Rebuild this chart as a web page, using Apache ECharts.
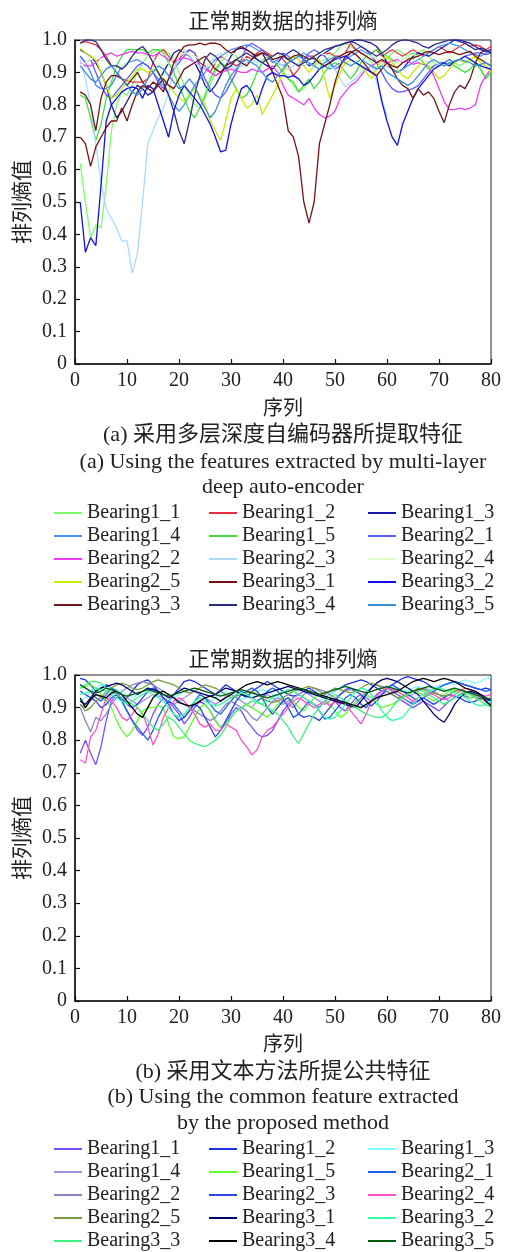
<!DOCTYPE html>
<html>
<head>
<meta charset="utf-8">
<script src="https://cdn.jsdelivr.net/npm/echarts@6/dist/echarts.min.js"></script>
<style>
html,body{margin:0;padding:0;background:#fff;overflow:hidden;}
#ca{width:513px;height:626px;}
#cb{width:513px;height:660px;}
</style>
</head>
<body>
<div id="ca"></div>
<div id="cb"></div>
<script>
// ---------- labels ----------
const seriesNames = ['Bearing1_1','Bearing1_2','Bearing1_3','Bearing1_4','Bearing1_5',
  'Bearing2_1','Bearing2_2','Bearing2_3','Bearing2_4','Bearing2_5',
  'Bearing3_1','Bearing3_2','Bearing3_3','Bearing3_4','Bearing3_5'];
const yTickLabels = ['0','0.1','0.2','0.3','0.4','0.5','0.6','0.7','0.8','0.9','1.0'];
const chartTitle = '正常期数据的排列熵';
const yAxisName = '排列熵值';
const xAxisName = '序列';
const captionA = ['(a) 采用多层深度自编码器所提取特征', '(a) Using the features extracted by multi-layer', 'deep auto-encoder'];
const captionB = ['(b) 采用文本方法所提公共特征', '(b) Using the common feature extracted', 'by the proposed method'];

// ---------- (a) multi-layer deep auto-encoder ----------
const a_b1_1 = [0.62,0.50,0.39,0.43,0.42,0.55,0.72,0.80,0.84,0.83,
 0.86,0.90,0.93,0.95,0.96,0.97,0.97,0.96,0.94,0.90,
 0.86,0.83,0.80,0.79,0.82,0.86,0.90,0.93,0.95,0.96,
 0.95,0.93,0.92,0.94,0.96,0.97,0.96,0.94,0.92,0.90,
 0.88,0.86,0.84,0.85,0.87,0.89,0.91,0.93,0.95,0.96,
 0.98,0.99,0.98,0.97,0.96,0.95,0.93,0.91,0.92,0.94,
 0.96,0.97,0.96,0.95,0.94,0.96,0.97,0.95,0.93,0.92,
 0.93,0.94,0.93,0.92,0.93,0.94,0.93,0.91,0.88,0.91];
const a_b1_2 = [0.99,0.995,0.99,0.985,0.97,0.95,0.92,0.90,0.88,0.875,
 0.87,0.87,0.87,0.88,0.93,0.96,0.97,0.95,0.93,0.94,
 0.96,0.97,0.96,0.93,0.92,0.90,0.93,0.95,0.94,0.93,
 0.92,0.93,0.95,0.94,0.96,0.97,0.96,0.95,0.96,0.94,
 0.92,0.89,0.91,0.94,0.95,0.95,0.96,0.955,0.96,0.95,
 0.95,0.96,0.99,0.97,0.96,0.95,0.96,0.97,0.95,0.96,
 0.97,0.96,0.95,0.96,0.97,0.96,0.95,0.96,0.97,0.98,
 0.97,0.96,0.97,0.98,0.99,0.98,0.985,0.98,0.97,0.98];
const a_b1_3 = [0.97,0.96,0.95,0.93,0.90,0.86,0.80,0.76,0.78,0.81,
 0.84,0.86,0.85,0.83,0.84,0.87,0.90,0.93,0.96,0.97,
 0.96,0.95,0.93,0.90,0.86,0.84,0.86,0.89,0.92,0.95,
 0.97,0.975,0.97,0.96,0.94,0.93,0.92,0.91,0.93,0.95,
 0.96,0.97,0.96,0.94,0.92,0.93,0.95,0.96,0.97,0.98,
 0.985,0.99,0.995,1.0,1.0,0.995,0.99,0.98,0.96,0.93,
 0.91,0.90,0.91,0.93,0.95,0.96,0.955,0.95,0.96,0.97,
 0.98,0.99,1.0,1.0,0.995,0.99,0.98,0.97,0.965,0.97];
const a_b1_4 = [0.95,0.93,0.90,0.86,0.85,0.85,0.86,0.89,0.92,0.93,
 0.935,0.94,0.93,0.92,0.90,0.88,0.86,0.83,0.80,0.78,
 0.80,0.83,0.86,0.88,0.90,0.92,0.94,0.95,0.96,0.97,
 0.975,0.98,0.985,0.98,0.97,0.96,0.95,0.94,0.93,0.92,
 0.93,0.94,0.95,0.96,0.95,0.94,0.93,0.92,0.91,0.92,
 0.93,0.94,0.95,0.96,0.97,0.96,0.95,0.94,0.93,0.92,
 0.91,0.90,0.91,0.92,0.93,0.94,0.95,0.96,0.97,0.98,
 0.985,0.99,0.985,0.98,0.97,0.96,0.955,0.95,0.96,0.965];
const a_b1_5 = [0.83,0.82,0.76,0.69,0.74,0.82,0.87,0.92,0.95,0.97,
 0.97,0.97,0.97,0.96,0.97,0.97,0.96,0.93,0.90,0.86,
 0.82,0.78,0.76,0.79,0.83,0.88,0.91,0.93,0.92,0.88,
 0.85,0.82,0.83,0.86,0.90,0.93,0.95,0.94,0.92,0.90,
 0.88,0.87,0.84,0.86,0.88,0.85,0.87,0.90,0.92,0.93,
 0.92,0.90,0.88,0.90,0.93,0.95,0.96,0.97,0.96,0.95,
 0.94,0.93,0.94,0.95,0.96,0.95,0.93,0.91,0.92,0.93,
 0.92,0.93,0.92,0.91,0.90,0.91,0.93,0.91,0.88,0.90];
const a_b2_1 = [0.95,0.93,0.94,0.90,0.86,0.83,0.82,0.84,0.86,0.88,
 0.90,0.92,0.93,0.92,0.90,0.87,0.85,0.88,0.91,0.93,
 0.95,0.97,0.96,0.92,0.88,0.85,0.83,0.82,0.84,0.87,
 0.90,0.94,0.98,0.99,0.98,0.97,0.95,0.93,0.94,0.96,
 0.95,0.93,0.92,0.94,0.96,0.97,0.96,0.95,0.93,0.91,
 0.92,0.94,0.96,0.97,0.98,0.97,0.95,0.93,0.90,0.87,
 0.85,0.84,0.84,0.845,0.85,0.86,0.88,0.90,0.92,0.93,
 0.93,0.94,0.93,0.94,0.95,0.955,0.96,0.96,0.955,0.96];
const a_b2_2 = [0.93,0.92,0.92,0.93,0.945,0.955,0.96,0.95,0.955,0.96,
 0.965,0.96,0.96,0.955,0.95,0.96,0.95,0.94,0.935,0.94,
 0.945,0.94,0.93,0.92,0.91,0.90,0.89,0.90,0.905,0.91,
 0.905,0.90,0.90,0.91,0.905,0.90,0.91,0.92,0.90,0.86,
 0.83,0.82,0.81,0.80,0.82,0.79,0.77,0.76,0.765,0.78,
 0.82,0.84,0.86,0.87,0.89,0.91,0.92,0.93,0.935,0.93,
 0.935,0.94,0.93,0.935,0.925,0.93,0.925,0.92,0.89,0.85,
 0.81,0.785,0.785,0.79,0.785,0.79,0.80,0.86,0.89,0.91];
const a_b2_3 = [0.94,0.88,0.80,0.68,0.56,0.48,0.45,0.42,0.38,0.38,
 0.28,0.34,0.50,0.68,0.72,0.76,0.79,0.84,0.90,0.95,
 0.97,0.95,0.93,0.92,0.91,0.93,0.95,0.96,0.94,0.92,
 0.91,0.92,0.93,0.94,0.93,0.94,0.95,0.94,0.93,0.92,
 0.91,0.92,0.93,0.92,0.93,0.92,0.93,0.94,0.92,0.91,
 0.88,0.855,0.87,0.88,0.90,0.91,0.92,0.87,0.82,0.765];
const a_b2_4 = [0.92,0.93,0.94,0.95,0.94,0.93,0.92,0.91,0.92,0.93,
 0.94,0.95,0.955,0.95,0.94,0.93,0.92,0.93,0.94,0.95,
 0.96,0.955,0.95,0.94,0.93,0.92,0.93,0.94,0.95,0.96,
 0.955,0.95,0.94,0.93,0.925,0.93,0.94,0.95,0.955,0.95,
 0.94,0.93,0.92,0.93,0.94,0.95,0.96,0.955,0.95,0.94,
 0.93,0.925,0.93,0.94,0.95,0.955,0.95,0.94,0.93,0.92,
 0.925,0.93,0.94,0.95,0.955,0.95,0.94,0.93,0.925,0.93,
 0.94,0.95,0.955,0.95,0.94,0.935,0.93,0.935,0.94,0.945];
const a_b2_5 = [0.975,0.96,0.95,0.94,0.90,0.86,0.82,0.83,0.85,0.87,
 0.89,0.91,0.91,0.90,0.91,0.90,0.88,0.86,0.84,0.82,
 0.81,0.83,0.85,0.83,0.80,0.75,0.72,0.69,0.75,0.82,
 0.85,0.82,0.79,0.80,0.83,0.77,0.80,0.83,0.86,0.90,
 0.93,0.95,0.94,0.92,0.90,0.92,0.94,0.88,0.82,0.86,
 0.90,0.93,0.94,0.93,0.92,0.90,0.88,0.91,0.94,0.95,
 0.93,0.91,0.89,0.88,0.90,0.92,0.93,0.92,0.90,0.88,
 0.89,0.91,0.93,0.94,0.93,0.94,0.95,0.93,0.92,0.90];
const a_b3_1 = [0.70,0.68,0.61,0.67,0.70,0.73,0.75,0.75,0.79,0.75,
 0.80,0.84,0.86,0.85,0.87,0.86,0.84,0.88,0.93,0.96,
 0.98,0.985,0.985,0.99,0.985,0.99,0.99,0.985,0.97,0.96,
 0.97,0.98,0.97,0.96,0.95,0.96,0.93,0.90,0.86,0.82,
 0.72,0.70,0.64,0.50,0.435,0.50,0.68,0.74,0.80,0.87,
 0.92,0.95,0.96,0.97,0.96,0.95,0.94,0.93,0.94,0.93,
 0.92,0.915,0.93,0.94,0.945,0.95,0.96,0.965,0.96,0.955,
 0.96,0.965,0.96,0.955,0.96,0.965,0.95,0.94,0.93,0.92];
const a_b3_2 = [0.50,0.345,0.39,0.365,0.55,0.75,0.80,0.82,0.84,0.85,
 0.855,0.85,0.82,0.86,0.85,0.80,0.75,0.70,0.78,0.83,
 0.86,0.84,0.82,0.80,0.77,0.74,0.70,0.655,0.66,0.74,
 0.80,0.85,0.86,0.84,0.80,0.85,0.89,0.90,0.89,0.89,
 0.885,0.89,0.88,0.86,0.87,0.89,0.91,0.92,0.93,0.94,
 0.945,0.95,0.94,0.93,0.92,0.91,0.90,0.89,0.81,0.75,
 0.70,0.675,0.74,0.78,0.82,0.85,0.87,0.89,0.91,0.92,
 0.93,0.92,0.935,0.94,0.95,0.94,0.93,0.92,0.915,0.91];
const a_b3_3 = [0.84,0.83,0.80,0.72,0.82,0.87,0.89,0.89,0.88,0.86,
 0.88,0.90,0.87,0.85,0.84,0.86,0.88,0.86,0.85,0.88,
 0.91,0.92,0.93,0.94,0.95,0.93,0.91,0.90,0.92,0.93,
 0.94,0.93,0.92,0.94,0.955,0.96,0.955,0.94,0.945,0.95,
 0.94,0.95,0.955,0.95,0.94,0.945,0.93,0.92,0.93,0.945,
 0.95,0.96,0.965,0.955,0.94,0.92,0.90,0.89,0.91,0.93,
 0.91,0.88,0.86,0.85,0.82,0.85,0.83,0.84,0.82,0.78,
 0.745,0.80,0.84,0.86,0.85,0.88,0.93,0.96,0.97,0.96];
const a_b3_4 = [0.99,1.0,1.0,0.995,0.97,0.94,0.92,0.92,0.91,0.925,
 0.95,0.97,0.98,0.96,0.93,0.90,0.87,0.83,0.78,0.72,
 0.68,0.75,0.83,0.89,0.94,0.96,0.95,0.93,0.91,0.92,
 0.94,0.95,0.96,0.95,0.94,0.93,0.94,0.95,0.96,0.955,
 0.94,0.93,0.92,0.93,0.94,0.95,0.96,0.97,0.975,0.98,
 0.985,0.99,0.995,0.99,0.98,0.97,0.96,0.95,0.96,0.97,
 0.985,0.995,1.0,1.0,0.995,0.99,0.98,0.975,0.985,0.99,
 0.995,1.0,1.0,0.995,0.99,0.98,0.97,0.975,0.97,0.96];
const a_b3_5 = [0.92,0.90,0.88,0.87,0.89,0.91,0.92,0.90,0.88,0.86,
 0.84,0.83,0.85,0.88,0.90,0.92,0.91,0.89,0.87,0.85,
 0.86,0.88,0.86,0.82,0.79,0.76,0.78,0.82,0.86,0.89,
 0.91,0.93,0.94,0.93,0.92,0.90,0.88,0.87,0.89,0.91,
 0.93,0.94,0.95,0.94,0.93,0.92,0.91,0.93,0.94,0.95,
 0.94,0.93,0.92,0.93,0.94,0.93,0.92,0.91,0.92,0.90,
 0.89,0.88,0.87,0.86,0.87,0.89,0.91,0.93,0.94,0.93,
 0.92,0.93,0.935,0.94,0.935,0.93,0.92,0.925,0.93,0.92];

// ---------- (b) proposed method ----------
const b_b1_1 = [0.76,0.80,0.76,0.725,0.78,0.86,0.92,0.94,0.92,0.89,
 0.86,0.83,0.815,0.84,0.88,0.91,0.93,0.92,0.90,0.88,
 0.85,0.87,0.90,0.92,0.91,0.89,0.86,0.84,0.85,0.88,
 0.90,0.89,0.86,0.84,0.82,0.81,0.815,0.83,0.86,0.89,
 0.91,0.93,0.94,0.93,0.92,0.91,0.90,0.92,0.93,0.92,
 0.90,0.89,0.91,0.93,0.94,0.93,0.92,0.93,0.94,0.95,
 0.94,0.93,0.92,0.91,0.90,0.91,0.92,0.91,0.90,0.89,
 0.905,0.92,0.93,0.94,0.935,0.93,0.935,0.93,0.92,0.91];
const b_b1_2 = [0.99,0.985,0.97,0.95,0.96,0.97,0.96,0.94,0.92,0.93,
 0.95,0.97,0.98,0.985,0.97,0.95,0.93,0.92,0.94,0.96,
 0.98,0.985,0.98,0.97,0.96,0.95,0.94,0.955,0.97,0.96,
 0.95,0.94,0.93,0.95,0.96,0.97,0.98,0.97,0.96,0.95,
 0.94,0.935,0.94,0.95,0.96,0.95,0.94,0.93,0.94,0.95,
 0.96,0.97,0.975,0.98,0.985,0.98,0.97,0.96,0.95,0.96,
 0.97,0.98,0.99,0.995,0.99,0.985,0.98,0.97,0.96,0.965,
 0.97,0.975,0.98,0.975,0.97,0.965,0.96,0.955,0.96,0.955];
const b_b1_3 = [0.92,0.93,0.95,0.96,0.97,0.965,0.96,0.955,0.95,0.94,
 0.93,0.94,0.95,0.96,0.955,0.94,0.93,0.92,0.93,0.94,
 0.95,0.955,0.95,0.94,0.93,0.92,0.93,0.94,0.95,0.94,
 0.93,0.925,0.93,0.94,0.95,0.955,0.95,0.94,0.935,0.93,
 0.94,0.95,0.96,0.95,0.94,0.93,0.92,0.93,0.94,0.95,
 0.96,0.965,0.96,0.95,0.94,0.935,0.93,0.94,0.95,0.96,
 0.965,0.96,0.955,0.95,0.96,0.965,0.96,0.955,0.96,0.965,
 0.97,0.975,0.97,0.98,0.985,0.98,0.975,0.98,0.99,0.995];
const b_b1_4 = [0.91,0.90,0.92,0.94,0.93,0.92,0.94,0.95,0.94,0.93,
 0.92,0.91,0.92,0.93,0.94,0.935,0.93,0.92,0.91,0.92,
 0.93,0.94,0.95,0.94,0.93,0.92,0.91,0.92,0.935,0.94,
 0.93,0.92,0.91,0.90,0.92,0.93,0.94,0.93,0.92,0.91,
 0.92,0.93,0.94,0.95,0.94,0.93,0.92,0.91,0.92,0.93,
 0.94,0.95,0.955,0.95,0.94,0.93,0.92,0.935,0.95,0.96,
 0.955,0.95,0.94,0.935,0.94,0.95,0.96,0.955,0.95,0.94,
 0.935,0.94,0.95,0.955,0.95,0.94,0.935,0.93,0.92,0.93];
const b_b1_5 = [0.96,0.965,0.97,0.96,0.94,0.92,0.90,0.86,0.83,0.81,
 0.83,0.86,0.89,0.90,0.90,0.905,0.90,0.85,0.81,0.805,
 0.81,0.84,0.87,0.90,0.91,0.89,0.86,0.84,0.85,0.87,
 0.89,0.90,0.91,0.90,0.89,0.88,0.87,0.89,0.91,0.92,
 0.93,0.92,0.90,0.89,0.91,0.93,0.94,0.93,0.91,0.89,
 0.87,0.88,0.90,0.92,0.93,0.94,0.93,0.91,0.90,0.905,
 0.91,0.92,0.93,0.94,0.95,0.945,0.94,0.93,0.92,0.93,
 0.94,0.95,0.955,0.95,0.94,0.93,0.935,0.94,0.93,0.92];
const b_b2_1 = [0.97,0.96,0.95,0.93,0.92,0.94,0.96,0.95,0.92,0.89,
 0.86,0.84,0.82,0.80,0.83,0.87,0.90,0.92,0.91,0.89,
 0.87,0.89,0.92,0.94,0.93,0.91,0.89,0.88,0.90,0.92,
 0.94,0.95,0.94,0.93,0.92,0.93,0.95,0.96,0.95,0.93,
 0.90,0.87,0.88,0.90,0.92,0.91,0.89,0.865,0.87,0.89,
 0.91,0.93,0.94,0.93,0.91,0.90,0.92,0.94,0.95,0.96,
 0.95,0.94,0.93,0.92,0.91,0.92,0.93,0.94,0.95,0.96,
 0.97,0.975,0.98,0.975,0.97,0.965,0.96,0.955,0.95,0.955];
const b_b2_2 = [0.90,0.86,0.825,0.87,0.86,0.88,0.91,0.93,0.95,0.96,
 0.97,0.975,0.98,0.975,0.97,0.96,0.95,0.94,0.93,0.92,
 0.91,0.90,0.89,0.88,0.87,0.86,0.87,0.89,0.91,0.92,
 0.91,0.90,0.89,0.87,0.86,0.88,0.90,0.92,0.93,0.92,
 0.91,0.90,0.92,0.94,0.95,0.96,0.955,0.95,0.94,0.93,
 0.92,0.91,0.90,0.91,0.93,0.95,0.96,0.97,0.965,0.96,
 0.95,0.94,0.93,0.92,0.915,0.92,0.93,0.94,0.945,0.94,
 0.93,0.92,0.93,0.94,0.95,0.945,0.94,0.93,0.925,0.93];
const b_b2_3 = [0.95,0.94,0.93,0.92,0.90,0.91,0.93,0.94,0.93,0.91,
 0.90,0.91,0.93,0.95,0.96,0.95,0.93,0.91,0.88,0.86,
 0.87,0.89,0.91,0.90,0.87,0.84,0.81,0.83,0.86,0.89,
 0.92,0.94,0.95,0.96,0.95,0.93,0.90,0.88,0.90,0.92,
 0.93,0.91,0.88,0.87,0.875,0.87,0.86,0.88,0.90,0.92,
 0.94,0.955,0.96,0.95,0.94,0.92,0.905,0.92,0.94,0.96,
 0.97,0.96,0.95,0.94,0.93,0.92,0.93,0.92,0.91,0.92,
 0.93,0.94,0.935,0.93,0.92,0.915,0.92,0.93,0.925,0.92];
const b_b2_4 = [0.74,0.73,0.81,0.83,0.88,0.93,0.92,0.90,0.87,0.86,
 0.88,0.90,0.88,0.84,0.785,0.82,0.87,0.90,0.92,0.93,
 0.92,0.90,0.88,0.85,0.84,0.85,0.83,0.83,0.85,0.84,
 0.83,0.80,0.78,0.755,0.77,0.81,0.83,0.84,0.86,0.88,
 0.90,0.92,0.93,0.92,0.91,0.90,0.91,0.92,0.905,0.92,
 0.91,0.92,0.89,0.87,0.85,0.88,0.92,0.94,0.95,0.96,
 0.955,0.95,0.94,0.93,0.92,0.93,0.94,0.945,0.94,0.93,
 0.925,0.93,0.94,0.95,0.96,0.955,0.95,0.94,0.935,0.94];
const b_b2_5 = [0.91,0.89,0.90,0.92,0.93,0.95,0.96,0.97,0.975,0.97,
 0.96,0.955,0.96,0.97,0.98,0.985,0.98,0.975,0.97,0.96,
 0.95,0.945,0.95,0.96,0.97,0.965,0.96,0.95,0.94,0.93,
 0.935,0.94,0.945,0.95,0.94,0.93,0.92,0.915,0.92,0.93,
 0.94,0.95,0.955,0.96,0.965,0.96,0.95,0.94,0.95,0.96,
 0.955,0.95,0.945,0.95,0.96,0.97,0.975,0.97,0.96,0.95,
 0.94,0.93,0.935,0.94,0.95,0.96,0.955,0.95,0.945,0.94,
 0.935,0.94,0.95,0.955,0.95,0.94,0.93,0.925,0.93,0.92];
const b_b3_1 = [0.92,0.91,0.93,0.95,0.96,0.965,0.97,0.975,0.97,0.96,
 0.95,0.94,0.95,0.96,0.955,0.95,0.94,0.93,0.94,0.95,
 0.96,0.955,0.95,0.945,0.94,0.935,0.94,0.95,0.96,0.955,
 0.95,0.94,0.935,0.93,0.935,0.94,0.945,0.95,0.955,0.96,
 0.965,0.96,0.955,0.95,0.945,0.94,0.935,0.93,0.925,0.92,
 0.915,0.91,0.905,0.90,0.92,0.94,0.96,0.975,0.985,0.99,
 0.985,0.98,0.97,0.96,0.95,0.94,0.92,0.90,0.88,0.865,
 0.855,0.88,0.91,0.93,0.945,0.95,0.945,0.94,0.93,0.92];
const b_b3_2 = [0.94,0.945,0.95,0.96,0.955,0.95,0.94,0.93,0.92,0.91,
 0.92,0.93,0.94,0.95,0.94,0.93,0.92,0.90,0.88,0.87,
 0.88,0.90,0.92,0.93,0.92,0.91,0.905,0.91,0.92,0.93,
 0.94,0.945,0.94,0.93,0.92,0.91,0.92,0.93,0.94,0.95,
 0.955,0.95,0.94,0.93,0.92,0.91,0.89,0.87,0.865,0.87,
 0.89,0.91,0.93,0.95,0.96,0.955,0.94,0.92,0.89,0.87,
 0.86,0.865,0.87,0.89,0.91,0.93,0.94,0.95,0.955,0.96,
 0.955,0.95,0.945,0.94,0.93,0.92,0.91,0.905,0.91,0.92];
const b_b3_3 = [0.96,0.97,0.98,0.98,0.975,0.96,0.95,0.94,0.93,0.92,
 0.91,0.90,0.88,0.86,0.84,0.83,0.85,0.87,0.86,0.84,
 0.82,0.80,0.79,0.785,0.78,0.79,0.80,0.815,0.84,0.87,
 0.89,0.90,0.91,0.92,0.915,0.91,0.90,0.89,0.88,0.86,
 0.84,0.81,0.79,0.82,0.85,0.88,0.90,0.92,0.93,0.94,
 0.93,0.92,0.91,0.90,0.89,0.88,0.875,0.87,0.87,0.88,
 0.90,0.92,0.93,0.94,0.95,0.955,0.95,0.94,0.93,0.92,
 0.91,0.92,0.93,0.94,0.945,0.94,0.93,0.92,0.91,0.90];
const b_b3_4 = [0.93,0.90,0.925,0.94,0.935,0.93,0.945,0.95,0.94,0.92,
 0.90,0.88,0.87,0.90,0.93,0.945,0.95,0.94,0.93,0.915,
 0.91,0.905,0.91,0.92,0.93,0.935,0.93,0.92,0.93,0.94,
 0.95,0.96,0.97,0.975,0.98,0.975,0.97,0.975,0.98,0.975,
 0.97,0.965,0.96,0.955,0.95,0.945,0.94,0.935,0.93,0.925,
 0.92,0.915,0.91,0.905,0.90,0.91,0.92,0.93,0.935,0.94,
 0.945,0.95,0.96,0.97,0.98,0.985,0.99,0.985,0.98,0.985,
 0.99,0.985,0.98,0.97,0.96,0.955,0.95,0.94,0.92,0.905];
const b_b3_5 = [0.97,0.96,0.95,0.945,0.95,0.96,0.955,0.95,0.94,0.935,
 0.94,0.945,0.95,0.955,0.95,0.945,0.94,0.935,0.94,0.945,
 0.95,0.955,0.96,0.955,0.95,0.945,0.94,0.935,0.94,0.945,
 0.95,0.955,0.95,0.945,0.94,0.935,0.93,0.935,0.94,0.945,
 0.95,0.955,0.96,0.955,0.95,0.945,0.94,0.945,0.95,0.955,
 0.96,0.965,0.96,0.955,0.95,0.945,0.95,0.955,0.96,0.965,
 0.96,0.955,0.95,0.945,0.95,0.955,0.96,0.965,0.96,0.955,
 0.95,0.955,0.96,0.955,0.95,0.945,0.94,0.935,0.93,0.925];

const valuesA = [a_b1_1,a_b1_2,a_b1_3,a_b1_4,a_b1_5,a_b2_1,a_b2_2,a_b2_3,a_b2_4,a_b2_5,a_b3_1,a_b3_2,a_b3_3,a_b3_4,a_b3_5];
const valuesB = [b_b1_1,b_b1_2,b_b1_3,b_b1_4,b_b1_5,b_b2_1,b_b2_2,b_b2_3,b_b2_4,b_b2_5,b_b3_1,b_b3_2,b_b3_3,b_b3_4,b_b3_5];

// ---------- styles ----------
const colorsA = ['#7cfc6c','#e8303c','#1a1aa8','#4a90ff','#40e040','#5a5aff','#f03cf0','#a8dcff','#e2fcc8','#bff000','#7a1010','#1010e0','#6e1a1a','#2a2a88','#3a8fd8'];
const colorsB = ['#7a4cff','#1a30e8','#80ffff','#a890e0','#60ff30','#1860f0','#8888c8','#2844e8','#ff50c8','#7a9a40','#000070','#30ffa8','#40f080','#000000','#005a10'];

const SERIF = 'Liberation Serif';
const CJK = 'Noto Sans CJK SC';
const MIX = 'Liberation Serif, Noto Sans CJK SC';
const TXT = '#222';

function makeOption(values, colors, L) {
  const series = values.map((arr, k) => ({
    name: seriesNames[k], type: 'line', symbol: 'none', showSymbol: false,
    color: colors[k], lineStyle: { width: 1.3, color: colors[k] },
    emphasis: { disabled: true }, silent: true,
    data: arr.map((v, i) => [i + 1, v])
  }));
  const cols = [[0,3,6,9,12],[1,4,7,10,13],[2,5,8,11,14]];
  const legendLeft = [54, 209, 368];
  const legend = cols.map((c, j) => ({
    orient: 'vertical', left: legendLeft[j], top: L.legendTop, padding: 0, itemGap: 0,
    itemWidth: 28, itemHeight: 2, icon: 'rect', selectedMode: false,
    data: c.map(i => seriesNames[i]),
    textStyle: { fontFamily: SERIF, fontSize: 20, color: TXT, lineHeight: 23 }
  }));
  const title = [
    { text: chartTitle, left: 283, textAlign: 'center', top: L.titleTop, padding: 0,
      textStyle: { fontFamily: CJK, fontSize: 21, fontWeight: 'normal', color: TXT, lineHeight: 21 } },
    { text: L.cap[0], left: 283, textAlign: 'center', top: L.capTop[0], padding: 0,
      textStyle: { fontFamily: MIX, fontSize: 22, fontWeight: 'normal', color: TXT, lineHeight: 22 } },
    { text: L.cap[1], left: 283, textAlign: 'center', top: L.capTop[1], padding: 0,
      textStyle: { fontFamily: SERIF, fontSize: 22, fontWeight: 'normal', color: TXT, lineHeight: 22 } },
    { text: L.cap[2], left: 283, textAlign: 'center', top: L.capTop[2], padding: 0,
      textStyle: { fontFamily: SERIF, fontSize: 22, fontWeight: 'normal', color: TXT, lineHeight: 22 } }
  ];
  return {
    animation: false, backgroundColor: '#fff',
    title: title, legend: legend,
    grid: { left: 75, top: L.gridTop, width: 416, height: L.gridH, show: true,
      borderColor: '#222', borderWidth: 1, backgroundColor: 'transparent' },
    xAxis: {
      type: 'value', min: 0, max: 80, interval: 10,
      name: xAxisName, nameLocation: 'middle', nameGap: L.xNameGap,
      nameTextStyle: { fontFamily: CJK, fontSize: 20, color: TXT },
      axisLine: { show: true, onZero: false, lineStyle: { color: '#111', width: 1.5 } },
      axisTick: { show: true, inside: true, length: 5, lineStyle: { color: '#111', width: 1.2 } },
      axisLabel: { fontFamily: SERIF, fontSize: 20, color: TXT, margin: 7 },
      splitLine: { show: false }
    },
    yAxis: {
      type: 'value', min: 0, max: 1, interval: 0.1,
      name: yAxisName, nameLocation: 'middle', nameRotate: 90, nameGap: 43,
      nameTextStyle: { fontFamily: CJK, fontSize: 21, color: TXT },
      axisLine: { show: true, onZero: false, lineStyle: { color: '#111', width: 1.5 } },
      axisTick: { show: true, inside: true, length: 5, lineStyle: { color: '#111', width: 1.2 } },
      axisLabel: { fontFamily: SERIF, fontSize: 20, color: TXT, margin: 8,
        formatter: v => yTickLabels[Math.round(v * 10)] },
      splitLine: { show: false }
    },
    series: series
  };
}

const chartA = echarts.init(document.getElementById('ca'), null, { renderer: 'canvas' });
chartA.setOption(makeOption(valuesA, colorsA, {
  titleTop: 10, gridTop: 40, gridH: 324, xNameGap: 33,
  cap: captionA, capTop: [424, 451, 476], legendTop: 501.5
}));
const chartB = echarts.init(document.getElementById('cb'), null, { renderer: 'canvas' });
chartB.setOption(makeOption(valuesB, colorsB, {
  titleTop: 22, gridTop: 49, gridH: 326, xNameGap: 32,
  cap: captionB, capTop: [435, 460, 486], legendTop: 511.5
}));
</script>
</body>
</html>
